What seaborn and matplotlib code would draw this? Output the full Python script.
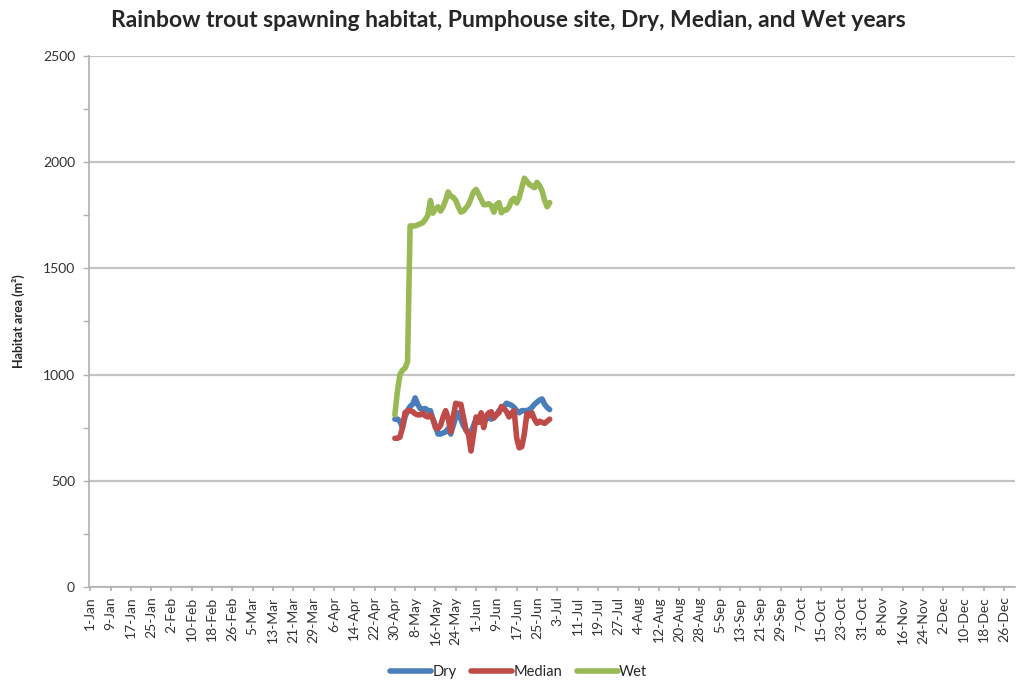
import numpy as np
import pandas as pd
import matplotlib
matplotlib.use("Agg")
import matplotlib.pyplot as plt
import seaborn as sns

# -----------------------------
# DATA
# -----------------------------
start_date = "2015-05-01"

dry = [790, 790, 780, 750, 800, 830, 850, 860, 890, 860,
       840, 835, 840, 830, 830, 790, 760, 720, 720, 725,
       730, 745, 720, 760, 800, 820, 790, 760, 740, 720,
       730, 760, 790, 800, 800, 780, 790, 800, 790, 800,
       810, 830, 840, 850, 865, 860, 855, 845, 830, 820,
       830, 830, 830, 835, 845, 860, 870, 880, 885, 860,
       845, 835]

median = [700, 700, 705, 750, 820, 830, 830, 825, 815, 810,
          810, 820, 805, 800, 810, 790, 750, 745, 760, 800,
          830, 795, 730, 800, 865, 860, 860, 800, 740, 720,
          640, 720, 800, 775, 820, 750, 805, 820, 825, 795,
          810, 820, 850, 840, 825, 800, 820, 830, 700, 655,
          660, 720, 815, 805, 820, 790, 770, 780, 775, 770,
          780, 790]

wet = [810, 920, 1000, 1020, 1030, 1060, 1700, 1700, 1700, 1705,
       1710, 1715, 1730, 1750, 1820, 1760, 1780, 1790, 1770, 1790,
       1820, 1860, 1840, 1835, 1820, 1790, 1765, 1770, 1785, 1800,
       1830, 1860, 1872, 1850, 1825, 1800, 1800, 1805, 1795, 1765,
       1800, 1810, 1762, 1775, 1775, 1790, 1820, 1830, 1808, 1835,
       1880, 1925, 1910, 1895, 1888, 1880, 1905, 1890, 1865, 1820,
       1790, 1810]

series_names = ["Dry", "Median", "Wet"]
series_colors = ["#4a7ebb", "#be4b48", "#98b954"]

tick_labels = ["1-Jan", "9-Jan", "17-Jan", "25-Jan", "2-Feb", "10-Feb", "18-Feb",
               "26-Feb", "5-Mar", "13-Mar", "21-Mar", "29-Mar", "6-Apr", "14-Apr",
               "22-Apr", "30-Apr", "8-May", "16-May", "24-May", "1-Jun", "9-Jun",
               "17-Jun", "25-Jun", "3-Jul", "11-Jul", "19-Jul", "27-Jul", "4-Aug",
               "12-Aug", "20-Aug", "28-Aug", "5-Sep", "13-Sep", "21-Sep", "29-Sep",
               "7-Oct", "15-Oct", "23-Oct", "31-Oct", "8-Nov", "16-Nov", "24-Nov",
               "2-Dec", "10-Dec", "18-Dec", "26-Dec"]

# -----------------------------
# LONG FORM TABLE
# -----------------------------
dates = pd.date_range(start_date, periods=len(dry))
day_idx = dates.dayofyear - 1
df = pd.concat([
    pd.DataFrame({"day": day_idx, "area": vals, "year": name})
    for name, vals in zip(series_names, [dry, median, wet])
], ignore_index=True)

# -----------------------------
# PLOT
# -----------------------------
sns.set_theme(style="white")
plt.rcParams["font.family"] = ["Lato", "DejaVu Sans"]

fig = plt.figure(figsize=(10.17, 6.84), dpi=100)
ax = fig.add_axes([0.0875, 0.142, 0.911, 0.776])

sns.lineplot(data=df, x="day", y="area", hue="year",
             palette=dict(zip(series_names, series_colors)),
             linewidth=4.0, ax=ax, legend=False, sort=False)

ax.set_xlim(-0.5, 364.5)
ax.set_ylim(0, 2500)
ax.set_yticks(np.arange(0, 2501, 500))
ax.set_yticks(np.arange(250, 2500, 500), minor=True)
ax.set_xticks(np.arange(0, 8 * len(tick_labels), 8))
ax.set_xticklabels(tick_labels, rotation=90, fontsize=10, color="#333333")
ax.tick_params(axis="y", which="both", direction="out", length=4,
               color="#b0b0b0", width=1, labelsize=10, labelcolor="#333333",
               left=True, pad=6)
ax.tick_params(axis="x", direction="out", length=3, color="#b0b0b0", bottom=True, pad=4)

ax.yaxis.grid(True, color="#c4c4c4", linewidth=1.6)
ax.xaxis.grid(False)
ax.set_axisbelow(True)
for s in ["top", "right"]:
    ax.spines[s].set_visible(False)
for s in ["left", "bottom"]:
    ax.spines[s].set_color("#b0b0b0")
    ax.spines[s].set_linewidth(1.2)

ax.set_xlabel("")
ax.set_ylabel("Habitat area (m²)", fontsize=9, fontweight="bold", labelpad=13)

fig.suptitle("Rainbow trout spawning habitat, Pumphouse site, Dry, Median, and Wet years",
             fontsize=16.5, fontweight="bold", x=0.5, y=0.985)

handles = [plt.Line2D([], [], color=c, linewidth=4.0) for c in series_colors]
fig.legend(handles, series_names, loc="lower center", ncol=3, frameon=False,
           bbox_to_anchor=(0.51, -0.012), fontsize=10.5, handlelength=2.8,
           handletextpad=0.1, columnspacing=1.0)

plt.savefig("out.png", dpi=100)
